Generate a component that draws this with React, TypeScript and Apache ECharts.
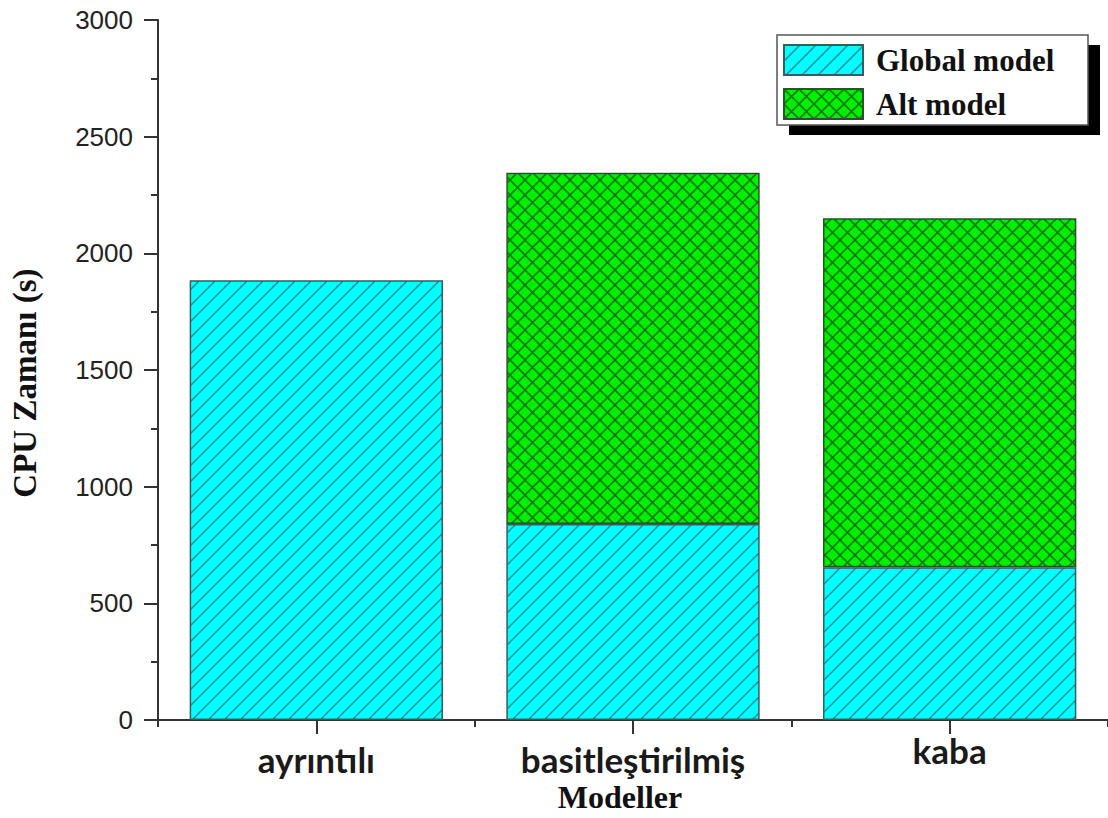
import React, { useEffect, useRef } from 'react';
import * as echarts from 'echarts';

const categories = ['ayrıntılı', 'basitleştirilmiş', 'kaba'];
const globalModel = [1885, 840, 655];
const altModel: (number | null)[] = [null, 1505, 1495];
const seriesNames = ['Global model', 'Alt model'];
const yMin = 0;
const yMax = 3000;
const yInterval = 500;
const xAxisName = 'Modeller';
const yAxisName = 'CPU Zamanı (s)';

function makePattern(bg: string, line: string, cross: boolean, size: number, lw: number) {
  const c = document.createElement('canvas');
  c.width = size;
  c.height = size;
  const ctx = c.getContext('2d')!;
  ctx.fillStyle = bg;
  ctx.fillRect(0, 0, size, size);
  ctx.strokeStyle = line;
  ctx.lineWidth = lw;
  ctx.beginPath();
  for (const k of [0, size, 2 * size]) {
    ctx.moveTo(k + 1, -1);
    ctx.lineTo(k - size - 1, size + 1);
  }
  if (cross) {
    for (const k of [-size, 0, size]) {
      ctx.moveTo(k - 1, -1);
      ctx.lineTo(k + size + 1, size + 1);
    }
  }
  ctx.stroke();
  return { image: c, repeat: 'repeat', imageWidth: size, imageHeight: size } as any;
}

export default function App() {
  const ref = useRef<HTMLDivElement>(null);
  useEffect(() => {
    if (!ref.current) return;
    const chart = echarts.init(ref.current, null, { renderer: 'svg' });
    const cyan = makePattern('#00FFFF', '#1b8f99', false, 16, 1.5);
    const green = makePattern('#00F000', '#0a7a0a', true, 15, 1.6);
    const labelFont = { fontFamily: 'Lato', fontWeight: 'bold' as const, fontSize: 35, color: '#1a1a1a' };
    chart.setOption({
      animation: false,
      backgroundColor: '#ffffff',
      grid: { left: 157, right: -2, top: 20, bottom: 97, containLabel: false },
      legend: {
        orient: 'vertical',
        left: 783,
        top: 44,
        padding: 0,
        itemWidth: 79,
        itemHeight: 30,
        itemGap: 12,
        icon: 'rect',
        data: seriesNames,
        textStyle: {
          fontFamily: 'Liberation Serif',
          fontWeight: 'bold',
          fontSize: 31,
          color: '#111',
          padding: [0, 0, 0, 8],
        },
      },
      graphic: [
        { type: 'rect', z: 3, shape: { x: 789, y: 45, width: 311, height: 90 }, style: { fill: '#000' } },
        {
          type: 'rect',
          z: 3,
          shape: { x: 777, y: 35, width: 311, height: 90 },
          style: { fill: '#fff', stroke: '#555', lineWidth: 1.5 },
        },
      ],
      xAxis: [
        {
          type: 'category',
          data: categories.map((c, i) => ({
            value: c,
            textStyle: { padding: i === 2 ? [0, 0, 0, 0] : [9, 0, 0, 0] },
          })),
          position: 'bottom',
          name: xAxisName,
          nameLocation: 'middle',
          nameGap: 60,
          nameTextStyle: {
            fontFamily: 'Liberation Serif',
            fontWeight: 'bold',
            fontSize: 32,
            color: '#111',
            padding: [0, 26, 0, 0],
          },
          axisLine: { show: true, lineStyle: { color: '#333', width: 2 } },
          axisTick: { show: true, alignWithLabel: true, length: 14, lineStyle: { color: '#333', width: 2 } },
          axisLabel: { ...labelFont, margin: 12 },
          splitLine: { show: false },
        },
        {
          type: 'category',
          data: categories,
          position: 'bottom',
          axisLine: { show: false },
          axisTick: { show: true, length: 7, lineStyle: { color: '#333', width: 2 } },
          axisLabel: { show: false },
          splitLine: { show: false },
        },
      ],
      yAxis: {
        type: 'value',
        min: yMin,
        max: yMax,
        interval: yInterval,
        name: yAxisName,
        nameLocation: 'middle',
        nameGap: 117,
        nameTextStyle: {
          fontFamily: 'Liberation Serif',
          fontWeight: 'bold',
          fontSize: 33,
          color: '#111',
          padding: [0, 26, 0, 0],
        },
        axisLine: { show: true, lineStyle: { color: '#333', width: 2 } },
        axisTick: { show: true, length: 14, lineStyle: { color: '#333', width: 2 } },
        minorTick: { show: true, splitNumber: 2, length: 7, lineStyle: { color: '#333', width: 2 } },
        axisLabel: {
          fontFamily: 'Liberation Sans',
          fontSize: 26,
          color: '#222',
          margin: 25,
          formatter: (v: number) => String(v),
        },
        splitLine: { show: false },
      },
      series: [
        {
          name: seriesNames[0],
          type: 'bar',
          stack: 'total',
          xAxisIndex: 0,
          barWidth: '80%',
          data: globalModel,
          itemStyle: { color: cyan, borderColor: '#3a5c5c', borderWidth: 1.5 },
        },
        {
          name: seriesNames[1],
          type: 'bar',
          stack: 'total',
          xAxisIndex: 0,
          barWidth: '80%',
          data: altModel,
          itemStyle: { color: green, borderColor: '#2f4f2f', borderWidth: 1.5 },
        },
      ],
    });
    return () => chart.dispose();
  }, []);
  return (
    <div
      ref={ref}
      style={{ position: 'absolute', left: 0, top: 0, width: 1108, height: 818 }}
    />
  );
}
